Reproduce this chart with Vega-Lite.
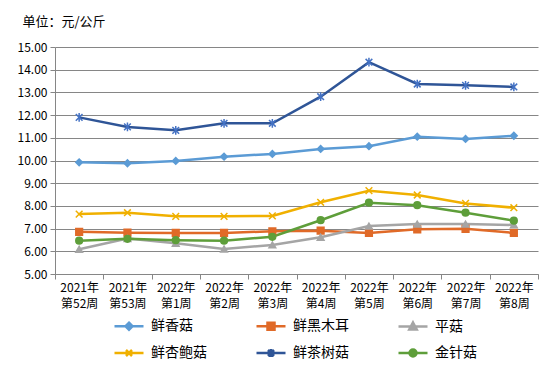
{
  "$schema": "https://vega.github.io/schema/vega-lite/v6.json",
  "autosize": "none",
  "width": 483,
  "height": 227,
  "padding": {"left": 55, "top": 47, "right": 11, "bottom": 96},
  "background": "white",
  "config": {
    "view": {"stroke": null},
    "font": "Noto Sans CJK SC",
    "axis": {"labelFont": "Noto Sans CJK SC", "labelColor": "#000000", "titleFont": "Noto Sans CJK SC", "titleColor": "#000000", "domainColor": "#868686", "tickColor": "#868686", "gridColor": "#868686", "domainWidth": 1, "gridWidth": 1}
  },
  "data": {"values": [
    {"week": "2021年第52周", "series": "鲜香菇", "value": 9.92},
    {"week": "2021年第53周", "series": "鲜香菇", "value": 9.88},
    {"week": "2022年第1周", "series": "鲜香菇", "value": 9.98},
    {"week": "2022年第2周", "series": "鲜香菇", "value": 10.17},
    {"week": "2022年第3周", "series": "鲜香菇", "value": 10.29},
    {"week": "2022年第4周", "series": "鲜香菇", "value": 10.51},
    {"week": "2022年第5周", "series": "鲜香菇", "value": 10.63},
    {"week": "2022年第6周", "series": "鲜香菇", "value": 11.05},
    {"week": "2022年第7周", "series": "鲜香菇", "value": 10.95},
    {"week": "2022年第8周", "series": "鲜香菇", "value": 11.09},
    {"week": "2021年第52周", "series": "鲜黑木耳", "value": 6.86},
    {"week": "2021年第53周", "series": "鲜黑木耳", "value": 6.82},
    {"week": "2022年第1周", "series": "鲜黑木耳", "value": 6.81},
    {"week": "2022年第2周", "series": "鲜黑木耳", "value": 6.81},
    {"week": "2022年第3周", "series": "鲜黑木耳", "value": 6.88},
    {"week": "2022年第4周", "series": "鲜黑木耳", "value": 6.91},
    {"week": "2022年第5周", "series": "鲜黑木耳", "value": 6.81},
    {"week": "2022年第6周", "series": "鲜黑木耳", "value": 6.97},
    {"week": "2022年第7周", "series": "鲜黑木耳", "value": 6.99},
    {"week": "2022年第8周", "series": "鲜黑木耳", "value": 6.81},
    {"week": "2021年第52周", "series": "平菇", "value": 6.09},
    {"week": "2021年第53周", "series": "平菇", "value": 6.56},
    {"week": "2022年第1周", "series": "平菇", "value": 6.35},
    {"week": "2022年第2周", "series": "平菇", "value": 6.10},
    {"week": "2022年第3周", "series": "平菇", "value": 6.28},
    {"week": "2022年第4周", "series": "平菇", "value": 6.62},
    {"week": "2022年第5周", "series": "平菇", "value": 7.11},
    {"week": "2022年第6周", "series": "平菇", "value": 7.20},
    {"week": "2022年第7周", "series": "平菇", "value": 7.20},
    {"week": "2022年第8周", "series": "平菇", "value": 7.16},
    {"week": "2021年第52周", "series": "鲜杏鲍菇", "value": 7.64},
    {"week": "2021年第53周", "series": "鲜杏鲍菇", "value": 7.70},
    {"week": "2022年第1周", "series": "鲜杏鲍菇", "value": 7.54},
    {"week": "2022年第2周", "series": "鲜杏鲍菇", "value": 7.54},
    {"week": "2022年第3周", "series": "鲜杏鲍菇", "value": 7.56},
    {"week": "2022年第4周", "series": "鲜杏鲍菇", "value": 8.16},
    {"week": "2022年第5周", "series": "鲜杏鲍菇", "value": 8.67},
    {"week": "2022年第6周", "series": "鲜杏鲍菇", "value": 8.48},
    {"week": "2022年第7周", "series": "鲜杏鲍菇", "value": 8.11},
    {"week": "2022年第8周", "series": "鲜杏鲍菇", "value": 7.92},
    {"week": "2021年第52周", "series": "鲜茶树菇", "value": 11.90},
    {"week": "2021年第53周", "series": "鲜茶树菇", "value": 11.48},
    {"week": "2022年第1周", "series": "鲜茶树菇", "value": 11.33},
    {"week": "2022年第2周", "series": "鲜茶树菇", "value": 11.64},
    {"week": "2022年第3周", "series": "鲜茶树菇", "value": 11.64},
    {"week": "2022年第4周", "series": "鲜茶树菇", "value": 12.81},
    {"week": "2022年第5周", "series": "鲜茶树菇", "value": 14.33},
    {"week": "2022年第6周", "series": "鲜茶树菇", "value": 13.37},
    {"week": "2022年第7周", "series": "鲜茶树菇", "value": 13.31},
    {"week": "2022年第8周", "series": "鲜茶树菇", "value": 13.24},
    {"week": "2021年第52周", "series": "金针菇", "value": 6.47},
    {"week": "2021年第53周", "series": "金针菇", "value": 6.55},
    {"week": "2022年第1周", "series": "金针菇", "value": 6.49},
    {"week": "2022年第2周", "series": "金针菇", "value": 6.47},
    {"week": "2022年第3周", "series": "金针菇", "value": 6.64},
    {"week": "2022年第4周", "series": "金针菇", "value": 7.37},
    {"week": "2022年第5周", "series": "金针菇", "value": 8.14},
    {"week": "2022年第6周", "series": "金针菇", "value": 8.03},
    {"week": "2022年第7周", "series": "金针菇", "value": 7.70},
    {"week": "2022年第8周", "series": "金针菇", "value": 7.35}
  ]},
  "encoding": {
    "x": {
      "field": "week", "type": "nominal", "sort": null,
      "scale": {"type": "band", "paddingInner": 0, "paddingOuter": 0},
      "axis": {"title": null, "labelAngle": 0, "tickBand": "extent", "tickSize": 5, "labelPadding": 3, "labelFontSize": 12, "labelLineHeight": 16, "labelBaseline": "top",
        "labelExpr": "[substring(datum.label, 0, 5), substring(datum.label, 5)]", "grid": false}
    },
    "y": {
      "field": "value", "type": "quantitative",
      "scale": {"domain": [5, 15], "nice": false, "zero": false},
      "axis": {"values": [5, 6, 7, 8, 9, 10, 11, 12, 13, 14, 15], "format": ".2f", "grid": true, "tickSize": 5, "labelPadding": 3, "labelFontSize": 12,
        "title": "单位：元/公斤", "titleAngle": 0, "titleAlign": "left", "titleBaseline": "middle", "titleX": -33, "titleY": -26, "titleFontSize": 13, "titleFontWeight": "normal"}
    }
  },
  "layer": [
    {
      "mark": {"type": "line", "strokeWidth": 2.5},
      "encoding": {
        "color": {"field": "series", "type": "nominal",
          "scale": {"domain": ["鲜香菇", "鲜黑木耳", "平菇", "鲜杏鲍菇", "鲜茶树菇", "金针菇"], "range": ["#5B9BD5", "#E06A28", "#A5A5A5", "#F0B000", "#2F5597", "#5E9E3A"]},
          "legend": null}
      }
    },
    {
      "mark": {"type": "point", "filled": true, "opacity": 1, "strokeWidth": 1.5, "size": 45},
      "encoding": {
        "fill": {"field": "series", "type": "nominal",
          "scale": {"domain": ["鲜香菇", "鲜黑木耳", "平菇", "鲜杏鲍菇", "鲜茶树菇", "金针菇"], "range": ["#5B9BD5", "#E06A28", "#A5A5A5", "#F0B000", "#4472C4", "#5E9E3A"]},
          "legend": null},
        "stroke": {"field": "series", "type": "nominal",
          "scale": {"domain": ["鲜香菇", "鲜黑木耳", "平菇", "鲜杏鲍菇", "鲜茶树菇", "金针菇"], "range": ["#5B9BD5", "#E06A28", "#A5A5A5", "#F0B000", "#4472C4", "#5E9E3A"]},
          "legend": null},
        "shape": {"field": "series", "type": "nominal",
          "scale": {"domain": ["鲜香菇", "鲜黑木耳", "平菇", "鲜杏鲍菇", "鲜茶树菇", "金针菇"], "range": ["diamond", "square", "triangle-up", "M-1,-1L1,1M-1,1L1,-1", "M-1,-1L1,1M-1,1L1,-1M0,-1.3V1.3", "circle"]},
          "legend": null}
      }
    },
    {
      "transform": [{"filter": "false"}],
      "mark": {"type": "point", "filled": true, "opacity": 1, "strokeWidth": 2.5},
      "encoding": {
        "fill": {"field": "series", "type": "nominal",
          "scale": {"domain": ["鲜香菇", "鲜黑木耳", "平菇", "鲜杏鲍菇", "鲜茶树菇", "金针菇"], "range": ["#5B9BD5", "#E06A28", "#A5A5A5", "#F0B000", "#2F5597", "#5E9E3A"]},
          "legend": {"title": null, "orient": "none", "legendX": 67, "legendY": 272, "direction": "horizontal", "columns": 3, "columnPadding": 44, "rowPadding": 9, "padding": 0,
            "symbolSize": 100, "symbolStrokeWidth": 2.5, "labelOffset": 15, "labelFont": "Noto Sans CJK SC", "labelFontSize": 14, "labelColor": "#000000", "labelLimit": 200}},
        "stroke": {"field": "series", "type": "nominal",
          "scale": {"domain": ["鲜香菇", "鲜黑木耳", "平菇", "鲜杏鲍菇", "鲜茶树菇", "金针菇"], "range": ["#5B9BD5", "#E06A28", "#A5A5A5", "#F0B000", "#2F5597", "#5E9E3A"]},
          "legend": {"title": null, "orient": "none", "legendX": 67, "legendY": 272, "direction": "horizontal", "columns": 3, "columnPadding": 44, "rowPadding": 9, "padding": 0,
            "symbolSize": 100, "symbolStrokeWidth": 2.5, "labelOffset": 15, "labelFont": "Noto Sans CJK SC", "labelFontSize": 14, "labelColor": "#000000", "labelLimit": 200}},
        "shape": {"field": "series", "type": "nominal",
          "scale": {"domain": ["鲜香菇", "鲜黑木耳", "平菇", "鲜杏鲍菇", "鲜茶树菇", "金针菇"], "range": [
            "M-2.9,0H2.9M0,-0.7L0.7,0L0,0.7L-0.7,0Z",
            "M-2.9,0H2.9M-0.7,-0.7H0.7V0.7H-0.7Z",
            "M-2.9,0H2.9M0,-0.8L0.75,0.6H-0.75Z",
            "M-2.9,0H2.9M-0.6,-0.6L0.6,0.6M-0.6,0.6L0.6,-0.6",
            "M-2.9,0H2.9M-0.6,-0.6L0.6,0.6M-0.6,0.6L0.6,-0.6M0,-0.8V0.8",
            "M-2.9,0H2.9M0.7,0A0.7,0.7,0,1,1,-0.7,0A0.7,0.7,0,1,1,0.7,0Z"]},
          "legend": {"title": null, "orient": "none", "legendX": 67, "legendY": 272, "direction": "horizontal", "columns": 3, "columnPadding": 44, "rowPadding": 9, "padding": 0,
            "symbolSize": 100, "symbolStrokeWidth": 2.5, "labelOffset": 15, "labelFont": "Noto Sans CJK SC", "labelFontSize": 14, "labelColor": "#000000", "labelLimit": 200}}
      }
    }
  ],
  "resolve": {"scale": {"color": "independent", "fill": "independent", "stroke": "independent", "shape": "independent"}}
}
